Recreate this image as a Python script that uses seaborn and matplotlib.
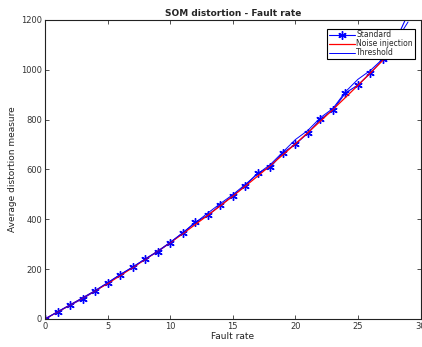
import numpy as np
import pandas as pd
import matplotlib
matplotlib.use("Agg")
import matplotlib.pyplot as plt
import seaborn as sns

fault_rate = list(range(0, 30))
standard = [0, 28, 55, 81, 112, 144, 178, 207, 240, 270, 306, 345, 388, 416, 456,
            494, 535, 586, 609, 667, 701, 746, 801, 839, 907, 939, 987, 1042, 1115, 1225]
noise_injection = [0, 28, 56, 84, 113, 142, 174, 206, 239, 272, 306, 342, 379, 416, 454,
                   493, 533, 574, 616, 659, 703, 748, 794, 841, 889, 938, 988, 1039, 1091, 1144]
threshold = [0, 29, 57, 85, 114, 146, 178, 209, 241, 272, 308, 346, 386, 425, 463,
             499, 540, 583, 620, 670, 720, 757, 808, 845, 912, 962, 998, 1045, 1112, 1192]

df = pd.DataFrame({
    "Fault rate": fault_rate * 3,
    "value": standard + noise_injection + threshold,
    "series": ["Standard"] * 30 + ["Noise injection"] * 30 + ["Threshold"] * 30,
})

sns.set_style("ticks")
plt.rcParams['font.family'] = ['DejaVu Sans']

fig = plt.figure(figsize=(4.22, 3.47), dpi=100)
ax = fig.add_axes([0.1066, 0.0807, 0.8900, 0.8617])

asterisk = (6, 2, 0)
sns.lineplot(data=df[df.series == "Standard"], x="Fault rate", y="value", ax=ax,
             color=(0, 0, 1), marker=asterisk, markersize=6, markeredgecolor=(0, 0, 1),
             markeredgewidth=1.0, linewidth=0.8, label="Standard")
sns.lineplot(data=df[df.series == "Noise injection"], x="Fault rate", y="value", ax=ax,
             color=(1, 0, 0), linewidth=0.9, label="Noise injection")
sns.lineplot(data=df[df.series == "Threshold"], x="Fault rate", y="value", ax=ax,
             color=(0, 0, 1), linewidth=0.7, label="Threshold")

ax.set_xlim(0, 30)
ax.set_ylim(0, 1200)
ax.set_xticks(range(0, 31, 5))
ax.set_yticks(range(0, 1201, 200))
ax.tick_params(direction="in", top=True, right=True, labelsize=6, length=3,
               width=0.6, colors="#333333", pad=2)
for s in ax.spines.values():
    s.set_linewidth(0.8)
    s.set_color("#222222")
ax.set_xlabel("Fault rate", fontsize=6.5, labelpad=1, color="#222222")
ax.set_ylabel("Average distortion measure", fontsize=6.5, labelpad=3, color="#222222")
ax.set_title("SOM distortion - Fault rate", fontsize=6.5, fontweight="bold", pad=3)

leg = ax.legend(loc="upper right", fontsize=5.5, frameon=True, fancybox=False,
                borderpad=0.2, labelspacing=0.0, handlelength=3.4, numpoints=1,
                handletextpad=0.2, borderaxespad=0, bbox_to_anchor=(0.984, 0.970))
leg.get_frame().set_edgecolor("black")
leg.get_frame().set_linewidth(0.8)
leg.get_frame().set_alpha(1)

fig.savefig("out.png", dpi=100)
